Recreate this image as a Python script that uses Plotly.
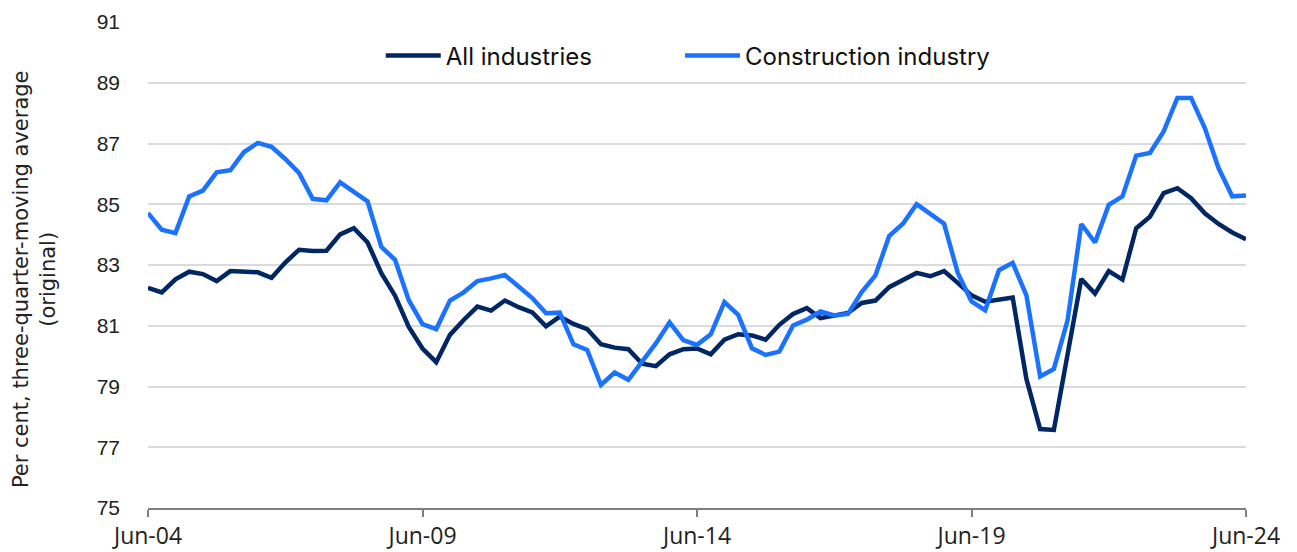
import plotly.graph_objects as go

quarters = list(range(81))  # quarterly, Jun-04 .. Jun-24
tick_positions = [0, 20, 40, 60, 80]
tick_labels = ["Jun-04", "Jun-09", "Jun-14", "Jun-19", "Jun-24"]

all_industries = [
    82.25, 82.10, 82.53, 82.78, 82.70, 82.47, 82.80, 82.79, 82.76, 82.58,
    83.08, 83.50, 83.46, 83.47, 84.01, 84.21, 83.74, 82.73, 81.99, 80.96,
    80.25, 79.80, 80.70, 81.19, 81.63, 81.50, 81.83, 81.61, 81.44, 80.98,
    81.30, 81.06, 80.89, 80.39, 80.28, 80.23, 79.75, 79.67, 80.06, 80.23,
    80.25, 80.06, 80.54, 80.72, 80.68, 80.54, 81.03, 81.39, 81.58, 81.25,
    81.34, 81.42, 81.75, 81.83, 82.27, 82.49, 82.74, 82.63, 82.80, 82.41,
    82.00, 81.79, 81.87, 81.93, 79.25, 77.60, 77.57, 80.08, 82.54, 82.06,
    82.80, 82.52, 84.21, 84.59, 85.37, 85.53, 85.20, 84.70, 84.35, 84.07,
    83.85,
]

construction = [
    84.71, 84.16, 84.05, 85.26, 85.45, 86.05, 86.12, 86.72, 87.02, 86.89,
    86.49, 86.03, 85.18, 85.13, 85.72, 85.39, 85.09, 83.60, 83.17, 81.84,
    81.05, 80.89, 81.83, 82.10, 82.47, 82.56, 82.67, 82.29, 81.91, 81.41,
    81.43, 80.39, 80.20, 79.05, 79.46, 79.22, 79.79, 80.42, 81.11, 80.53,
    80.37, 80.72, 81.78, 81.36, 80.26, 80.04, 80.15, 81.01, 81.20, 81.47,
    81.34, 81.39, 82.11, 82.66, 83.95, 84.36, 85.00, 84.67, 84.36, 82.74,
    81.80, 81.51, 82.83, 83.07, 82.00, 79.33, 79.58, 81.18, 84.35, 83.74,
    84.98, 85.26, 86.60, 86.69, 87.40, 88.50, 88.50, 87.51, 86.19, 85.26,
    85.29,
]

series_names = ["All industries", "Construction industry"]
series_colors = ["#002663", "#1a72ff"]
series_legends = ["legend", "legend2"]
y_title = "Per cent, three-quarter-moving average<br>(original)"

fig = go.Figure()
for name, vals, col, lg in zip(series_names, [all_industries, construction],
                               series_colors, series_legends):
    fig.add_trace(go.Scatter(
        x=quarters, y=vals, mode="lines", name=name, legend=lg,
        line=dict(color=col, width=4.5),
    ))

legend_style = dict(
    orientation="h", xanchor="left", y=0.93, yanchor="middle",
    font=dict(family="Inter", size=24, color="#111111"),
    bgcolor="rgba(0,0,0,0)", itemwidth=55,
)

# page body has an 8px margin, so the figure is sized to fill the rest
fig.update_layout(
    width=1289, height=544,
    margin=dict(l=140, r=51, t=14, b=44, autoexpand=False),
    paper_bgcolor="white", plot_bgcolor="white",
    showlegend=True,
    legend=dict(x=0.212, **legend_style),
    legend2=dict(x=0.4845, **legend_style),
    font=dict(family="Arial", color="#222222"),
)

fig.add_annotation(
    text=y_title, textangle=-90, showarrow=False,
    xref="paper", yref="paper", x=-0.1038, y=0.471,
    xanchor="center", yanchor="middle", align="center",
    font=dict(family="DejaVu Sans", size=21, color="#222222"),
)

fig.update_xaxes(
    range=[0, 80],
    tickmode="array", tickvals=tick_positions, ticktext=tick_labels,
    showgrid=False, zeroline=False,
    showline=True, linecolor="#7f7f7f", linewidth=1.5,
    ticks="outside", ticklen=7, tickcolor="#7f7f7f", tickwidth=1.5,
    tickfont=dict(family="Open Sans", size=23, color="#222222"),
)

fig.update_yaxes(
    range=[75, 91], tickmode="array", tickvals=list(range(75, 92, 2)),
    showgrid=True, gridcolor="#d9dbde", gridwidth=1.5,
    zeroline=False, showline=False, ticks="",
    ticklabelstandoff=27,
    tickfont=dict(family="Arial", size=21, color="#222222"),
)

fig.write_html("out.html")
